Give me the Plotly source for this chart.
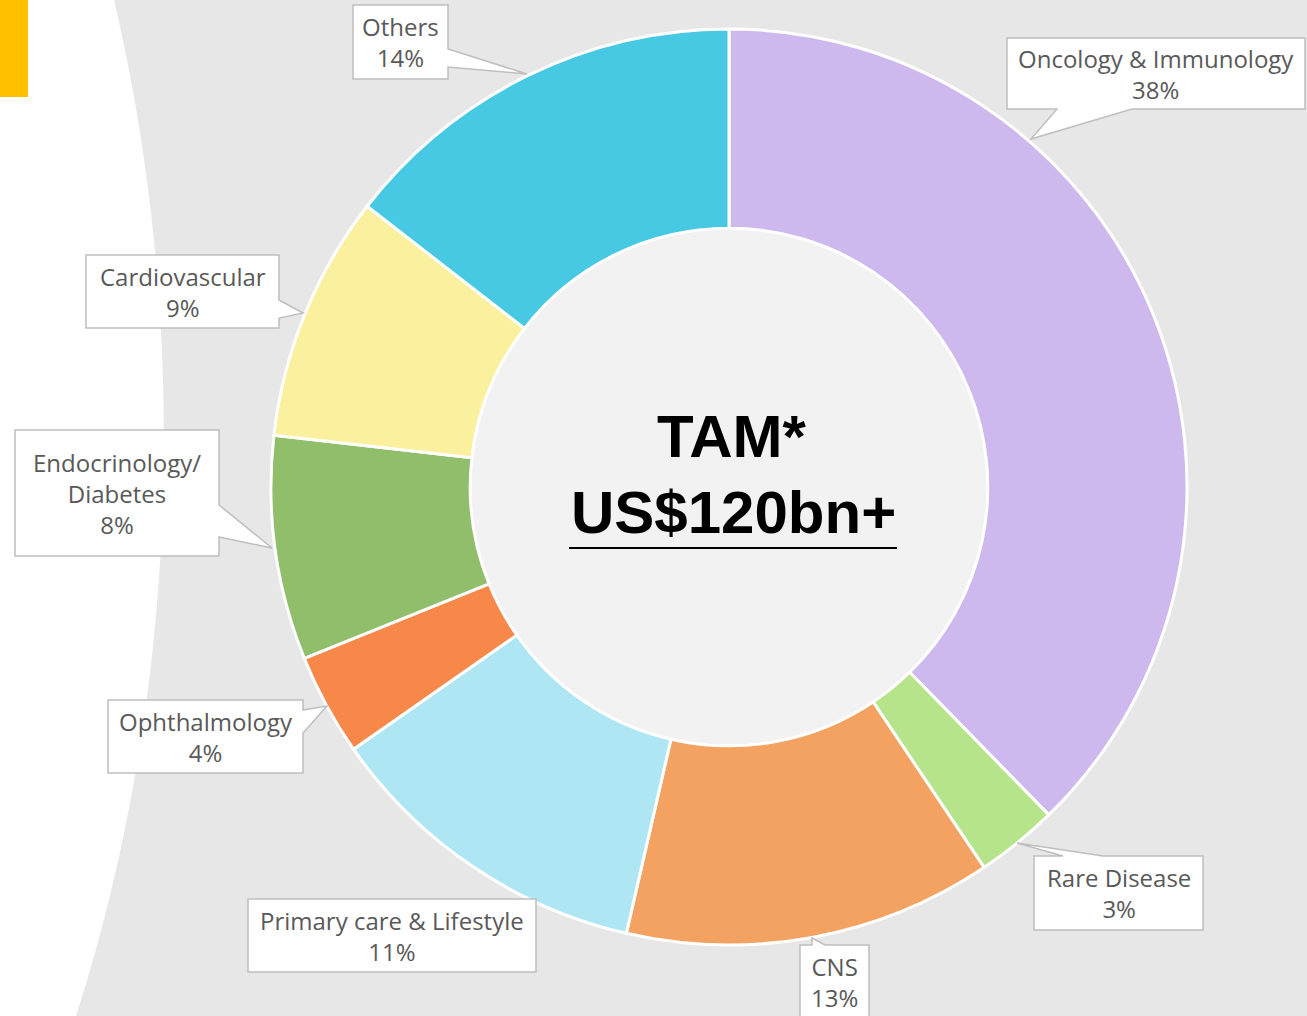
import plotly.graph_objects as go

# ---------------- data ----------------
categories = ["Oncology & Immunology", "Rare Disease", "CNS", "Primary care & Lifestyle",
              "Ophthalmology", "Endocrinology/ Diabetes", "Cardiovascular", "Others"]
shares = [37.7, 2.9, 13.0, 11.7, 3.6, 7.9, 8.7, 14.5]
pct_labels = ["38%", "3%", "13%", "11%", "4%", "8%", "9%", "14%"]
label_text = ["Oncology & Immunology", "Rare Disease", "CNS", "Primary care & Lifestyle",
              "Ophthalmology", "Endocrinology/<br>Diabetes", "Cardiovascular", "Others"]
colors = ["#CDB9EE", "#B5E48A", "#F4A261", "#AEE7F3", "#F8874A", "#91BE6B", "#FBF09D", "#48C9E3"]
center_title = "TAM*"
center_value = "US$120bn+"

W, H = 1307, 1016
CX, CY, R_OUT = 729, 487, 458
HOLE = 0.565

# callout layout: (box x0, y0, x1, y1), pointer side, pointer base (a, b), tip (x, y)
callouts = [
    ((1007, 38, 1305, 109), "bottom", (1057, 1132), (1031, 139)),
    ((1034, 856, 1203, 930), "top", (1063, 1103), (1017, 843)),
    ((800, 945, 869, 1030), "top", (812, 825), (812, 938)),
    ((248, 899, 536, 972), None, None, None),
    ((108, 700, 303, 773), "right", (710, 733), (327, 706)),
    ((15, 430, 219, 556), "right", (505, 537), (272, 548)),
    ((86, 255, 279, 328), "right", (300, 318), (303, 313)),
    ((353, 5, 448, 79), "right", (49, 67), (527, 74)),
]

fig = go.Figure()

fig.add_trace(go.Pie(
    labels=categories, values=shares, sort=False, direction="clockwise", rotation=0,
    hole=HOLE, textinfo="none", showlegend=False,
    marker=dict(colors=colors, line=dict(color="white", width=3)),
    domain=dict(x=[(CX - R_OUT) / W, (CX + R_OUT) / W],
                y=[1 - (CY + R_OUT) / H, 1 - (CY - R_OUT) / H]),
    hovertemplate="%{label}: %{value}%<extra></extra>",
))

shapes = []
# grey curved backdrop
shapes.append(dict(type="path", xref="x", yref="y", layer="below",
                   path="M 114 0 C 192 330 178 700 76 1016 L 1307 1016 L 1307 0 Z",
                   fillcolor="#E7E7E7", line=dict(width=0)))
# yellow tab
shapes.append(dict(type="rect", xref="x", yref="y", layer="below", x0=0, y0=0, x1=28, y1=97,
                   fillcolor="#FFC000", line=dict(width=0)))
# inner circle
ri = R_OUT * HOLE + 4
shapes.append(dict(type="circle", xref="x", yref="y", layer="below",
                   x0=CX - ri, y0=CY - ri, x1=CX + ri, y1=CY + ri,
                   fillcolor="#F2F2F2", line=dict(width=0)))

annotations = []
for (box, side, base, tip), txt, pct in zip(callouts, label_text, pct_labels):
    x0, y0, x1, y1 = box
    if side == "right":
        a, b = base
        p = f"M {x0} {y0} L {x1} {y0} L {x1} {a} L {tip[0]} {tip[1]} L {x1} {b} L {x1} {y1} L {x0} {y1} Z"
    elif side == "bottom":
        a, b = base
        p = f"M {x0} {y0} L {x1} {y0} L {x1} {y1} L {b} {y1} L {tip[0]} {tip[1]} L {a} {y1} L {x0} {y1} Z"
    elif side == "top":
        a, b = base
        p = f"M {x0} {y0} L {a} {y0} L {tip[0]} {tip[1]} L {b} {y0} L {x1} {y0} L {x1} {y1} L {x0} {y1} Z"
    else:
        p = f"M {x0} {y0} L {x1} {y0} L {x1} {y1} L {x0} {y1} Z"
    shapes.append(dict(type="path", xref="x", yref="y", layer="above", path=p,
                       fillcolor="white", line=dict(color="#BFBFBF", width=1.5)))
    ty = (y0 + y1) / 2 if y1 <= H else y0 + 37
    annotations.append(dict(xref="x", yref="y", x=(x0 + x1) / 2, y=ty,
                            text=f"{txt}<br>{pct}", showarrow=False,
                            font=dict(family="Open Sans", size=24, color="#595959"),
                            xanchor="center", yanchor="middle", align="center"))

# center text
annotations.append(dict(xref="x", yref="y", x=CX + 3, y=436, text=f"<b>{center_title}</b>",
                        showarrow=False, font=dict(family="Liberation Sans", size=60, color="black"),
                        xanchor="center", yanchor="middle"))
annotations.append(dict(xref="x", yref="y", x=CX + 4, y=512, text=f"<b>{center_value}</b>",
                        showarrow=False, font=dict(family="Liberation Sans", size=60, color="black"),
                        xanchor="center", yanchor="middle"))
shapes.append(dict(type="line", xref="x", yref="y", layer="above", x0=569, x1=897, y0=548, y1=548,
                   line=dict(color="black", width=2)))

fig.update_layout(
    width=W, height=H, margin=dict(l=0, r=0, t=0, b=0),
    paper_bgcolor="white", plot_bgcolor="rgba(0,0,0,0)",
    xaxis=dict(range=[0, W], visible=False, fixedrange=True, domain=[0, 1]),
    yaxis=dict(range=[H, 0], visible=False, fixedrange=True, domain=[0, 1]),
    shapes=shapes, annotations=annotations,
)

fig.write_html("out.html", config={"displayModeBar": False},
               post_script="document.body.style.margin='0px';document.body.style.overflow='hidden';")
